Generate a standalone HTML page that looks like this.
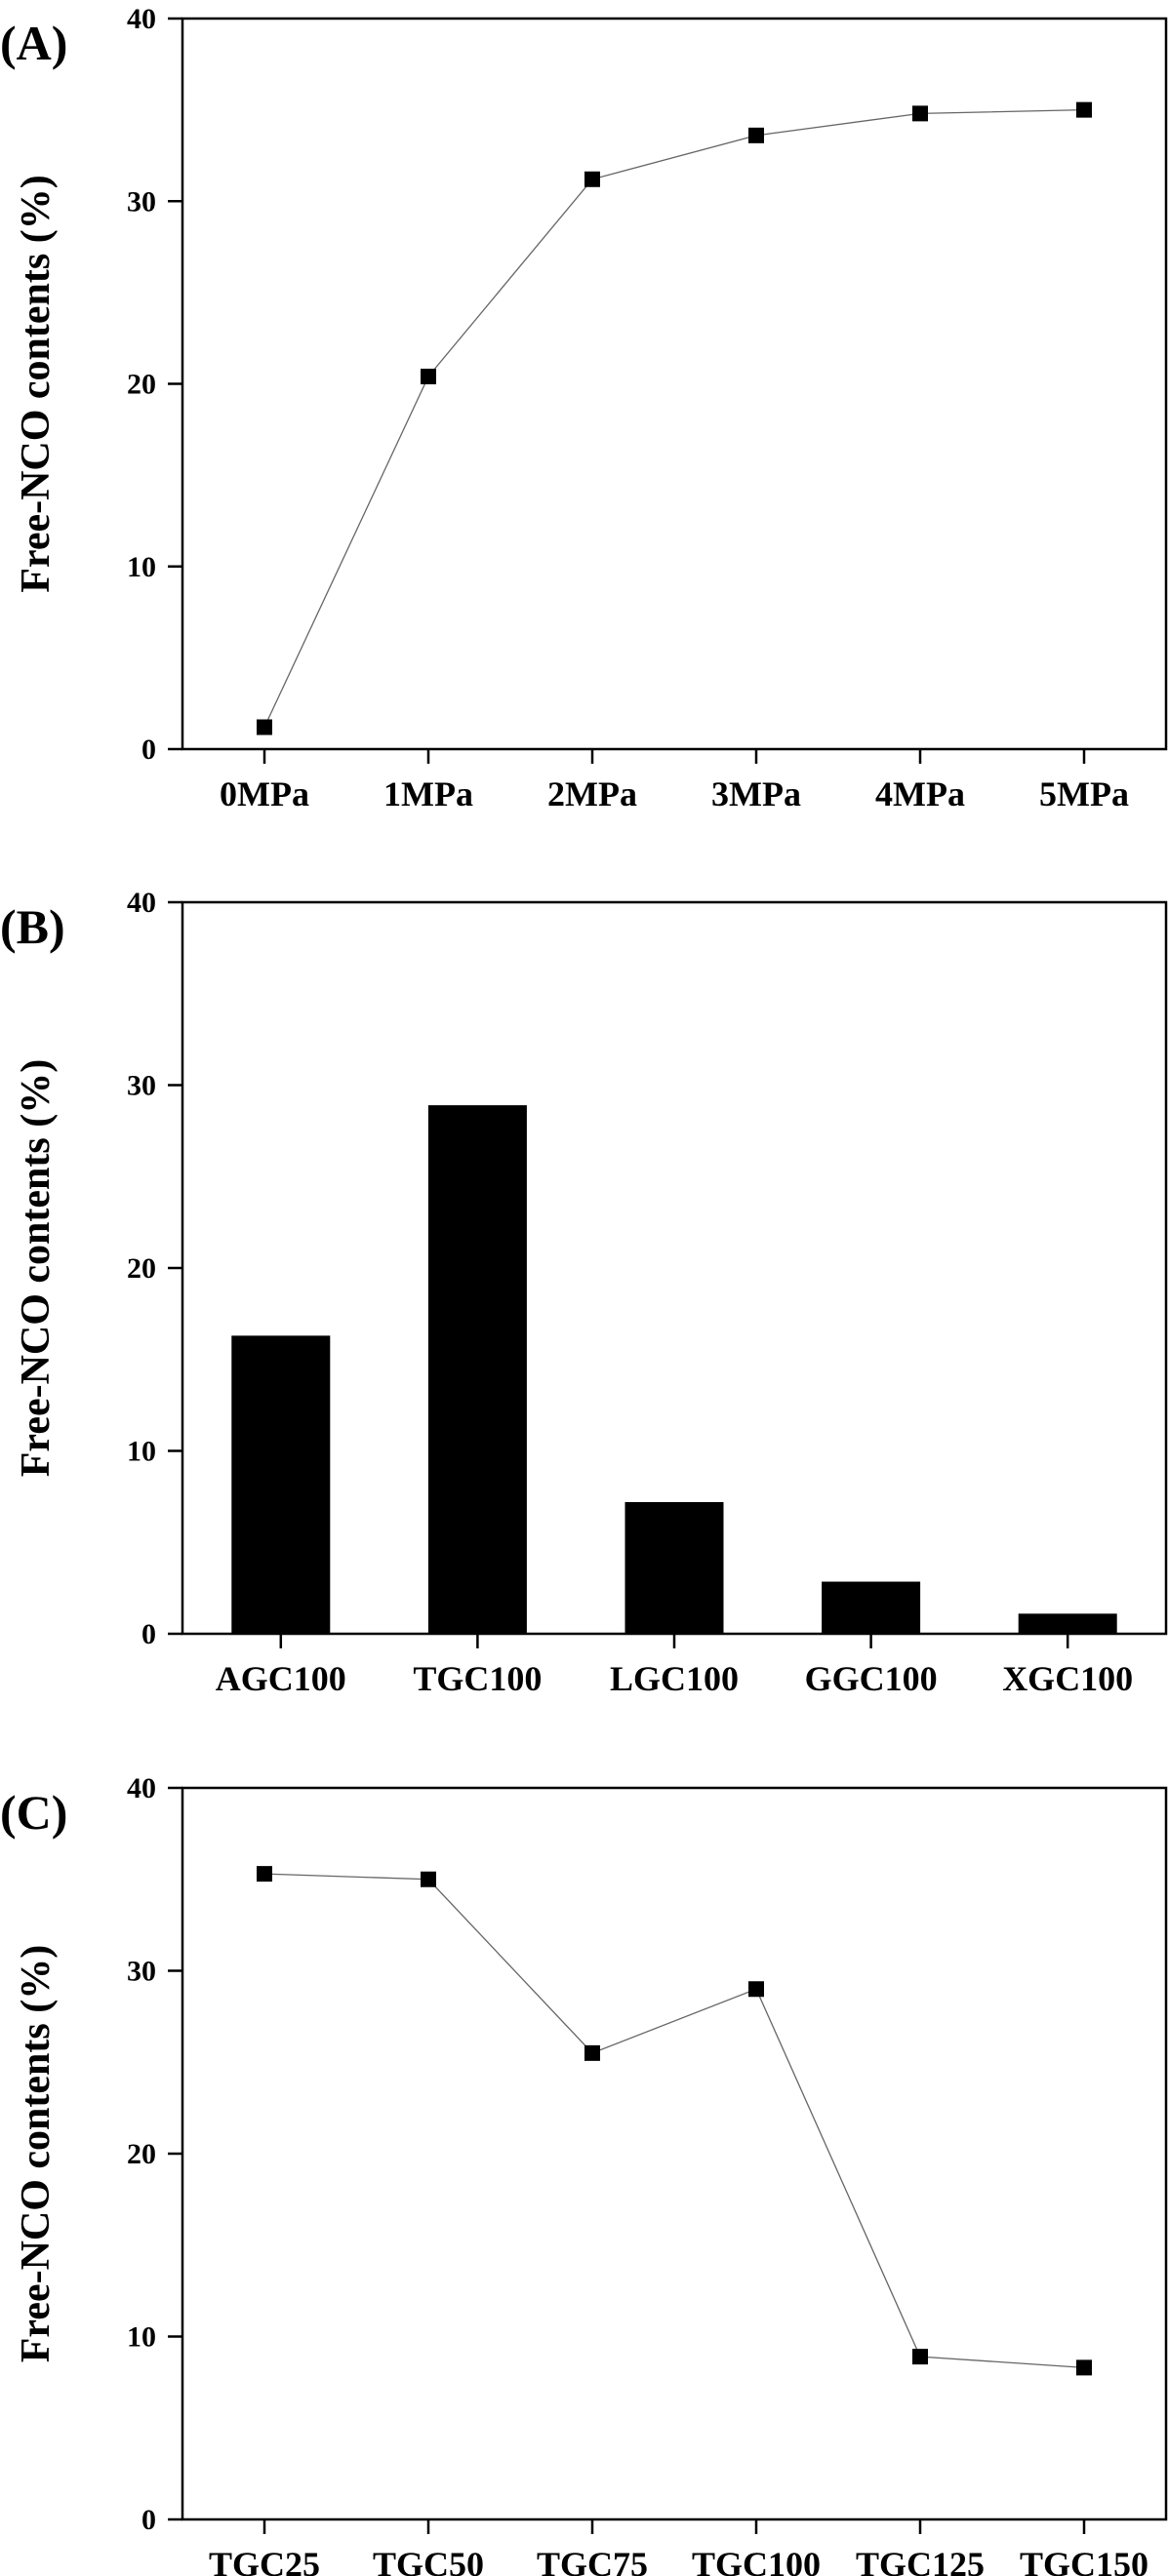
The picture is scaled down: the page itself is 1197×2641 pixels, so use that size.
<!DOCTYPE html>
<html><head><meta charset="utf-8"><style>
html,body{margin:0;padding:0;background:#fff}
svg{display:block}
text{font-family:"Liberation Serif",serif;font-weight:bold;fill:#000}
</style></head><body>
<svg id="fig" width="1197" height="2641" viewBox="0 0 1197 2641"></svg>
<script>
const catsA = ["0MPa","1MPa","2MPa","3MPa","4MPa","5MPa"];
const valsA = [1.2, 20.4, 31.2, 33.6, 34.8, 35.0];
const catsB = ["AGC100","TGC100","LGC100","GGC100","XGC100"];
const valsB = [16.3, 28.9, 7.2, 2.85, 1.1];
const catsC = ["TGC25","TGC50","TGC75","TGC100","TGC125","TGC150"];
const valsC = [35.3, 35.0, 25.5, 29.0, 8.9, 8.3];
const yTicks = [0, 10, 20, 30, 40];

const NS = "http://www.w3.org/2000/svg";
const svg = document.getElementById("fig");
function mk(tag, attrs, parent){
  const e = document.createElementNS(NS, tag);
  for (const k in attrs) e.setAttribute(k, attrs[k]);
  (parent||svg).appendChild(e);
  return e;
}
const L = 187, R = 1195;

function panel(id, label, top, bottom, cats, vals, type){
  const g = mk("g", {});
  
  
  const y = v => bottom - (v / 40) * (bottom - top);
  const band = (R - L) / cats.length;
  const x = i => L + band * (i + 0.5);

  const pl = mk("text", {x: 0, y: top + 42, "font-size": 50}, g);
  pl.textContent = label;
  
  

  const cy = (top + bottom) / 2;
  const yt = mk("text", {x: 0, y: 0, "font-size": 42, "text-anchor": "middle",
    transform: "translate(50," + cy + ") rotate(-90)"}, g);
  yt.textContent = "Free-NCO contents (%)";
  
  

  if (type === "bar") {
    const bw = 101;
    vals.forEach((v, i) => {
      const r = mk("rect", {x: x(i) - bw / 2, y: y(v), width: bw, height: bottom - y(v), fill: "#000"}, g);
      
      
    });
  } else {
    const pts = vals.map((v, i) => x(i) + "," + y(v)).join(" ");
    const pl2 = mk("polyline", {points: pts, fill: "none", stroke: "#666", "stroke-width": 1.3}, g);
    
    
    vals.forEach((v, i) => {
      const m = mk("rect", {x: x(i) - 8, y: y(v) - 8, width: 16, height: 16, fill: "#000"}, g);
      
      
    });
  }

  const fr = mk("rect", {x: L, y: top, width: R - L, height: bottom - top, fill: "none", stroke: "#000", "stroke-width": 2.5}, g);
  
  

  yTicks.forEach(t => {
    const tl = mk("line", {x1: L - 15, x2: L, y1: y(t), y2: y(t), stroke: "#000", "stroke-width": 2.5}, g);
    
    
    const tx = mk("text", {x: 160, y: y(t) + 10, "font-size": 30, "text-anchor": "end"}, g);
    tx.textContent = t;
    
    
  });
  cats.forEach((c, i) => {
    const tl = mk("line", {x1: x(i), x2: x(i), y1: bottom, y2: bottom + 15, stroke: "#000", "stroke-width": 2.5}, g);
    
    
    const tx = mk("text", {x: x(i), y: bottom + 58, "font-size": 36, "text-anchor": "middle"}, g);
    tx.textContent = c;
    
    
  });
}
panel("a", "(A)", 19, 768, catsA, valsA, "line");
panel("b", "(B)", 925, 1675, catsB, valsB, "bar");
panel("c", "(C)", 1833, 2583, catsC, valsC, "line");
</script>
</body></html>
